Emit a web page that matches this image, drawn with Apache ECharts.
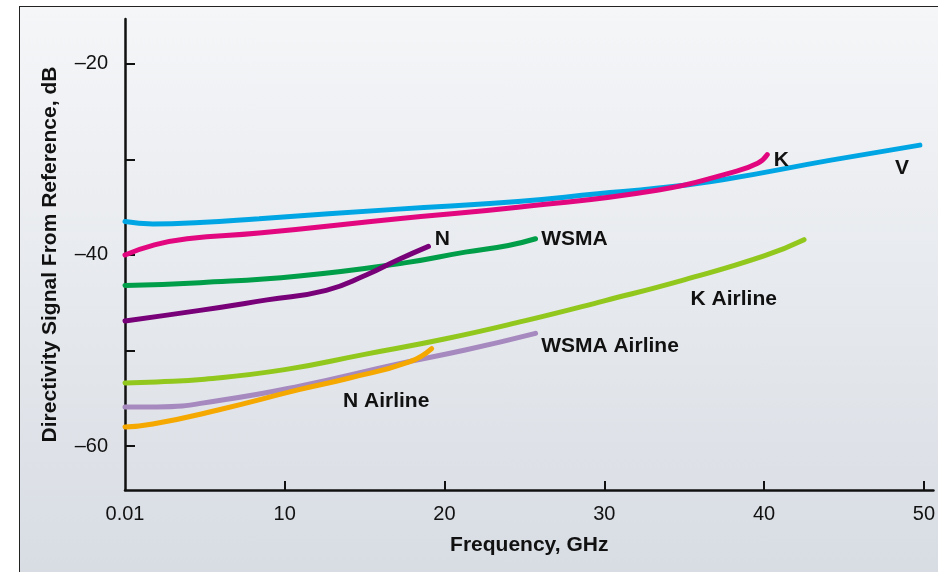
<!DOCTYPE html>
<html>
<head>
<meta charset="utf-8">
<title>Directivity Signal</title>
<script src="https://cdn.jsdelivr.net/npm/echarts@6/dist/echarts.min.js"></script>
<style>
  html, body { margin: 0; padding: 0; background: #fff; }
  .frame {
    position: absolute; left: 19px; top: 6px; width: 940px; height: 580px;
    border: 1.5px solid #222;
    background: linear-gradient(#f5f6f8, #d7dce3);
  }
  #chartArea { position: absolute; left: 0; top: 0; width: 938px; height: 572px; }
</style>
</head>
<body>
<div class="frame"></div>
<div id="chartArea"></div>
<script>
// frequency (GHz) / directivity (dB)
const vFreq = [0.01, 1.75, 4.7, 8.4, 17.1, 24.6, 29.6, 33.4, 37.5, 44.1, 49.75]
const vDb = [-36.5, -36.75, -36.6, -36.2, -35.2, -34.4, -33.6, -33.0, -32.1, -30.1, -28.5]

const kFreq = [0.01, 1.75, 3.9, 8.4, 17.1, 24.6, 33.4, 37.9, 39.6, 40.2]
const kDb = [-40.0, -39.0, -38.3, -37.7, -36.2, -35.0, -33.2, -31.4, -30.4, -29.5]

const wsmaFreq = [0.01, 4.7, 10.9, 17.6, 21.3, 24.0, 25.7]
const wsmaDb = [-43.2, -42.9, -42.2, -40.8, -39.7, -39.0, -38.3]

const nFreq = [0.01, 4.7, 8.9, 12.6, 15.1, 17.1, 19.0]
const nDb = [-46.9, -45.8, -44.7, -43.7, -42.1, -40.5, -39.1]

const kAirFreq = [0.01, 2, 5, 10, 15, 20, 25, 30, 35, 40, 42.5]
const kAirDb = [-53.4, -53.3, -53.0, -52.0, -50.4, -48.8, -46.9, -44.8, -42.6, -40.1, -38.4]

const wsmaAirFreq = [0.01, 2.0, 6.0, 11.0, 17.1, 21.3, 25.7]
const wsmaAirDb = [-55.9, -55.9, -55.2, -53.7, -51.4, -49.95, -48.2]

const nAirFreq = [0.01, 1.75, 5.9, 10.9, 14.0, 17.8, 19.2]
const nAirDb = [-58.0, -57.7, -56.2, -54.1, -52.9, -51.2, -49.8]

const xTicks = [10, 20, 30, 40, 50]
const xLabels = [0.01, 10, 20, 30, 40, 50]
const yTicks = [-60, -50, -40, -30, -20]
const yLabels = [-60, -40, -20]

const names = ['V', 'K', 'WSMA', 'N', 'K Airline', 'WSMA Airline', 'N Airline']
const colors = ['#00a6e4', '#e2077f', '#009e49', '#780078', '#92c81e', '#a689bf', '#f5a800']
// where each curve name sits (freq, dB) - left edge of the text
const labelFreq = [48.2, 40.6, 26.05, 19.4, 35.4, 26.05, 13.65]
const labelDb = [-30.9, -30.1, -38.4, -38.4, -44.6, -49.5, -55.3]

const font = 'Liberation Sans, Arial, Helvetica, sans-serif'

function pairs(xs, ys) {
  return xs.map((x, i) => [x, ys[i]])
}

const allData = [
  pairs(vFreq, vDb), pairs(kFreq, kDb), pairs(wsmaFreq, wsmaDb), pairs(nFreq, nDb),
  pairs(kAirFreq, kAirDb), pairs(wsmaAirFreq, wsmaAirDb), pairs(nAirFreq, nAirDb)
]

let series = allData.map((d, i) => {
  return {
    name: names[i],
    type: 'line',
    data: d,
    smooth: 0.5,
    showSymbol: false,
    lineStyle: { color: colors[i], width: 5, cap: 'round' },
    markPoint: {
      symbol: 'circle',
      symbolSize: 0,
      silent: true,
      data: [{ coord: [labelFreq[i], labelDb[i]] }],
      label: {
        show: true,
        formatter: names[i],
        position: 'inside',
        align: 'left',
        verticalAlign: 'middle',
        color: '#111',
        fontSize: 21,
        fontWeight: 'bold',
        fontFamily: font
      }
    }
  }
})

let option = {
  animation: false,
  backgroundColor: 'transparent',
  grid: { left: 125, right: 1, top: 19, bottom: 82 },
  xAxis: {
    type: 'value',
    min: 0.01,
    max: 50.6,
    name: 'Frequency, GHz',
    nameLocation: 'middle',
    nameGap: 45,
    nameTextStyle: { color: '#111', fontSize: 21, fontWeight: 'bold', fontFamily: font },
    axisLine: { lineStyle: { color: '#111', width: 2.5 } },
    axisTick: { inside: true, length: 9, customValues: xTicks, lineStyle: { color: '#111', width: 2 } },
    axisLabel: {
      customValues: xLabels,
      margin: 14,
      color: '#111',
      fontSize: 20,
      fontFamily: font,
      formatter: v => (v < 1 ? '0.01' : String(v))
    },
    splitLine: { show: false }
  },
  yAxis: {
    type: 'value',
    min: -64.6,
    max: -15.3,
    name: 'Directivity Signal From Reference, dB',
    nameLocation: 'middle',
    nameGap: 64,
    nameTextStyle: { color: '#111', fontSize: 21, fontWeight: 'bold', fontFamily: font },
    axisLine: { show: true, lineStyle: { color: '#111', width: 2.5 } },
    axisTick: { show: true, inside: true, length: 10, customValues: yTicks, lineStyle: { color: '#111', width: 2 } },
    axisLabel: {
      customValues: yLabels,
      margin: 17,
      color: '#111',
      fontSize: 20,
      fontFamily: font,
      formatter: v => '\u2013' + Math.abs(v)
    },
    splitLine: { show: false }
  },
  series: series
}

let myChart = echarts.init(document.getElementById('chartArea'))
myChart.setOption(option)
</script>
</body>
</html>
